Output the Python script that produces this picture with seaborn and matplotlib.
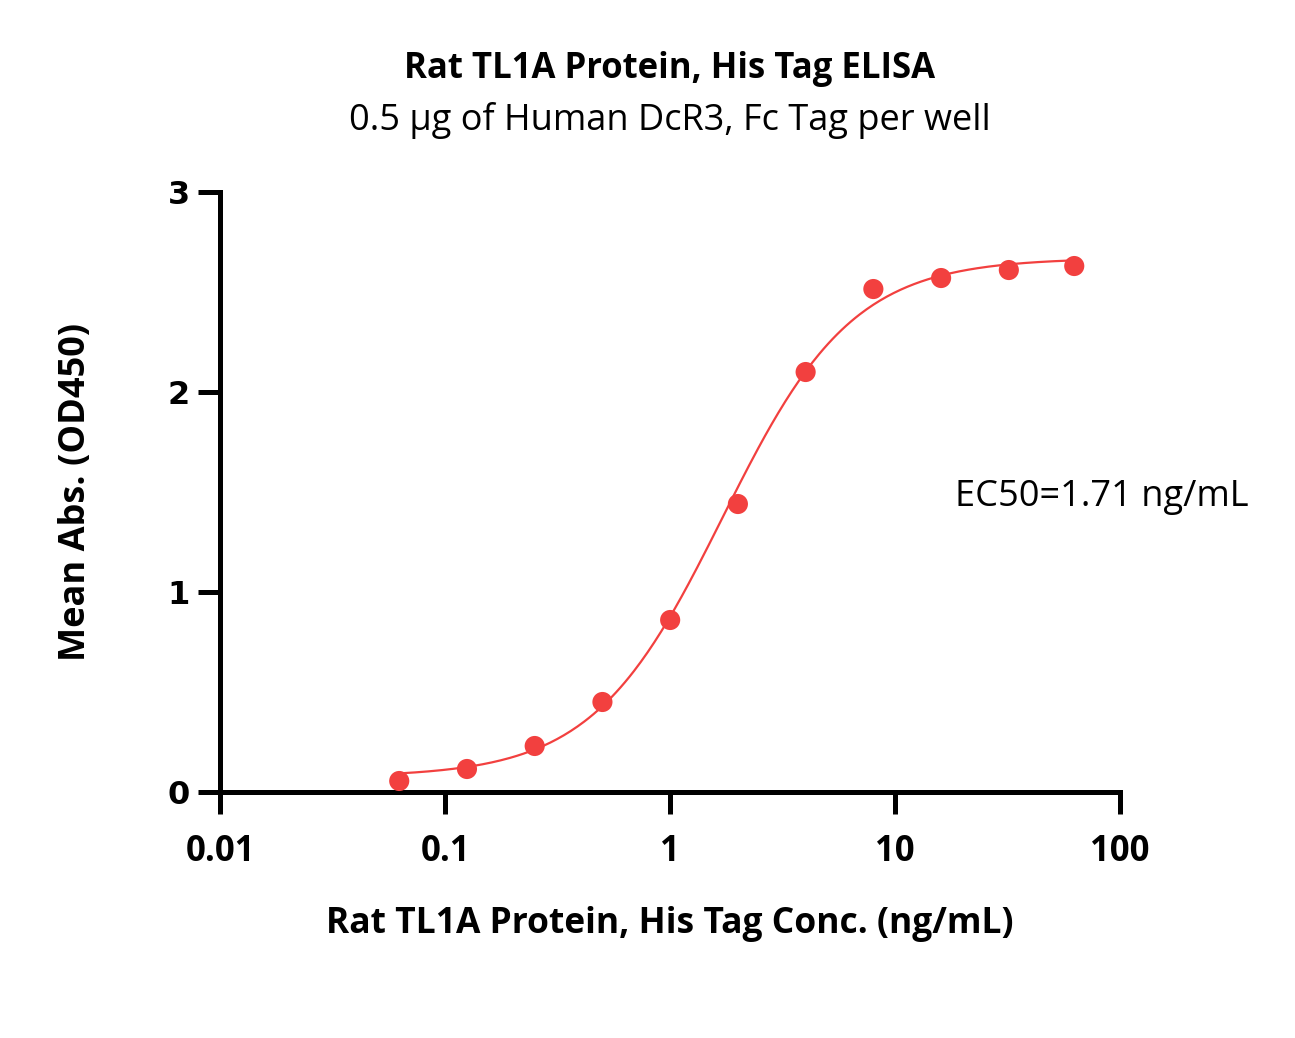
import numpy as np
import pandas as pd
import matplotlib
matplotlib.use('Agg')
import matplotlib.pyplot as plt
import seaborn as sns

conc = [0.0625, 0.125, 0.25, 0.5, 1.0, 2.0, 4.0, 8.0, 16.0, 32.0, 62.5]
od450 = [0.055, 0.115, 0.23, 0.45, 0.86, 1.44, 2.10, 2.515, 2.57, 2.61, 2.63]

# 4PL fit parameters estimated from the drawn curve
fit_bottom = 0.075
fit_top = 2.67
fit_ec50 = 1.71
fit_hill = 1.5

red = '#F2403F'

sns.set_theme(style='white')
plt.rcParams['font.family'] = ['Open Sans', 'DejaVu Sans']
plt.rcParams['text.color'] = 'black'
plt.rcParams['axes.labelcolor'] = 'black'
plt.rcParams['xtick.color'] = 'black'
plt.rcParams['ytick.color'] = 'black'

df = pd.DataFrame({'conc': conc, 'od': od450})
xs = np.logspace(np.log10(conc[0]), np.log10(conc[-1]), 300)
curve = pd.DataFrame({'conc': xs,
                      'od': fit_bottom + (fit_top - fit_bottom) / (1 + (fit_ec50 / xs) ** fit_hill)})

fig = plt.figure(figsize=(12.95, 10.38), dpi=100)
ax = fig.add_axes([0.170, 0.237, 0.695, 0.578])

sns.lineplot(data=curve, x='conc', y='od', color=red, linewidth=1.6, ax=ax)
sns.scatterplot(data=df, x='conc', y='od', color=red, s=210, edgecolor='none', ax=ax, zorder=3)

ax.set_xscale('log')
ax.set_xlim(0.01, 100)
ax.set_ylim(0, 3)
ax.set_xticks([0.01, 0.1, 1, 10, 100])
ax.set_xticklabels(['0.01', '0.1', '1', '10', '100'])
ax.set_yticks([0, 1, 2, 3])
ax.minorticks_off()

for side in ['top', 'right']:
    ax.spines[side].set_visible(False)
for side in ['left', 'bottom']:
    ax.spines[side].set_linewidth(3.6)
    ax.spines[side].set_color('black')

ax.tick_params(axis='both', which='major', direction='out', length=16, width=3.6,
               color='black', bottom=True, left=True)
ax.tick_params(axis='x', pad=14)
ax.tick_params(axis='y', pad=6)
for lab in ax.get_xticklabels():
    lab.set_fontsize(25)
    lab.set_fontweight('bold')
    lab.set_fontstretch('condensed')
for lab in ax.get_yticklabels():
    lab.set_fontsize(23)
    lab.set_fontweight('bold')
    lab.set_family('DejaVu Sans')

ax.set_xlabel('Rat TL1A Protein, His Tag Conc. (ng/mL)', fontsize=25.5, fontweight='bold', labelpad=26)
ax.set_ylabel('Mean Abs. (OD450)', fontsize=26, fontweight='bold', labelpad=53)

fig.text(0.517, 0.934, 'Rat TL1A Protein, His Tag ELISA', ha='center', va='center',
         fontsize=25, fontweight='bold')
fig.text(0.517, 0.884, '0.5 μg of Human DcR3, Fc Tag per well', ha='center', va='center',
         fontsize=26)
# EC50 annotation, x in axes fraction, y in data units
ax.text(0.816, 1.475, 'EC50=1.71 ng/mL', transform=ax.get_yaxis_transform(), fontsize=26,
        ha='left', va='center')

fig.savefig('out.png', dpi=100, facecolor='white')
